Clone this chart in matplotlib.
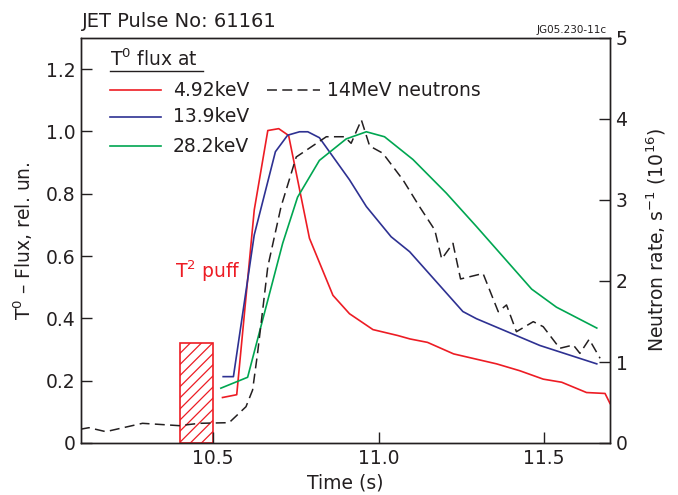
import numpy as np
import matplotlib
matplotlib.use('Agg')
import matplotlib.pyplot as plt
from matplotlib.patches import Rectangle
from matplotlib.lines import Line2D

plt.rcParams['font.family'] = ['DejaVu Sans']
plt.rcParams['mathtext.fontset'] = 'dejavusans'
plt.rcParams['hatch.linewidth'] = 0.9

ink = '#231f20'
red = '#ed1c24'
blue = '#2e3192'
green = '#00a651'
fs = 13.5

# T0 flux, 4.92 keV (rel. un.)
t_red = [10.528, 10.571, 10.624, 10.665, 10.698, 10.728, 10.791, 10.862, 10.912,
         10.983, 11.058, 11.095, 11.148, 11.227, 11.357, 11.427, 11.498, 11.554,
         11.629, 11.685, 11.70]
f_red = [0.146, 0.155, 0.748, 1.003, 1.009, 0.987, 0.657, 0.474, 0.415,
         0.364, 0.345, 0.334, 0.323, 0.286, 0.254, 0.232, 0.205, 0.195,
         0.162, 0.159, 0.127]

# T0 flux, 13.9 keV
t_blue = [10.530, 10.561, 10.624, 10.688, 10.725, 10.761, 10.786, 10.821, 10.912,
          10.963, 11.038, 11.094, 11.255, 11.296, 11.488, 11.660]
f_blue = [0.213, 0.213, 0.668, 0.935, 0.988, 0.999, 0.999, 0.980, 0.845,
          0.759, 0.662, 0.614, 0.422, 0.399, 0.313, 0.254]

# T0 flux, 28.2 keV
t_green = [10.523, 10.604, 10.710, 10.755, 10.821, 10.902, 10.963, 11.018, 11.104,
           11.205, 11.296, 11.463, 11.538, 11.660]
f_green = [0.176, 0.211, 0.641, 0.789, 0.907, 0.976, 0.999, 0.983, 0.910,
           0.802, 0.695, 0.494, 0.436, 0.369]

# 14 MeV neutron rate (1e16 /s)
t_neut = [10.097, 10.124, 10.175, 10.286, 10.397, 10.458, 10.548, 10.599, 10.619,
          10.634, 10.665, 10.705, 10.751, 10.842, 10.897, 10.917, 10.948, 10.973,
          11.013, 11.074, 11.124, 11.170, 11.191, 11.225, 11.248, 11.316, 11.362,
          11.387, 11.417, 11.468, 11.498, 11.548, 11.589, 11.609, 11.637, 11.670]
n_neut = [0.169, 0.189, 0.140, 0.243, 0.214, 0.243, 0.251, 0.448, 0.654,
          1.107, 2.177, 2.917, 3.531, 3.781, 3.781, 3.700, 3.988, 3.667,
          3.577, 3.247, 2.917, 2.630, 2.272, 2.465, 2.025, 2.093, 1.621,
          1.704, 1.374, 1.498, 1.436, 1.169, 1.210, 1.107, 1.280, 1.046]

# T2 puff window
puff_start, puff_end, puff_height = 10.4, 10.5, 0.32

W, H = 678, 495
fig = plt.figure(figsize=(W / 100, H / 100), dpi=100)
ax = fig.add_axes([81 / W, 1 - 443 / H, 529 / W, 405 / H])
ax2 = ax.twinx()

ax.add_patch(Rectangle((puff_start, 0), puff_end - puff_start, puff_height,
                       facecolor='none', edgecolor=red, hatch='///', lw=1.2, zorder=1))
ax.plot(t_red, f_red, color=red, lw=1.2, zorder=3)
ax.plot(t_blue, f_blue, color=blue, lw=1.2, zorder=3)
ax.plot(t_green, f_green, color=green, lw=1.2, zorder=3)
ax2.plot(t_neut, n_neut, color=ink, lw=1.1, ls=(0, (6.5, 3.5)))

ax.set_xlim(10.1, 11.7)
ax.set_ylim(0, 1.3)
ax2.set_ylim(0, 5)
ax.set_xticks([10.5, 11.0, 11.5])
ax.set_xticklabels(['10.5', '11.0', '11.5'])
ax.set_yticks([0, 0.2, 0.4, 0.6, 0.8, 1.0, 1.2])
ax.set_yticklabels(['0', '0.2', '0.4', '0.6', '0.8', '1.0', '1.2'])
ax2.set_yticks([0, 1, 2, 3, 4, 5])

for a in (ax, ax2):
    a.tick_params(direction='in', length=8, width=1, color=ink, labelcolor=ink,
                  labelsize=fs, pad=4)
    for s in a.spines.values():
        s.set_color(ink)
        s.set_linewidth(1.0)

ax.set_xlabel('Time (s)', fontsize=fs, color=ink, labelpad=4)
ax.set_ylabel(r'T$^{0}$ – Flux, rel. un.', fontsize=fs, color=ink, labelpad=8)
ax2.set_ylabel(r'Neutron rate, s$^{-1}$ (10$^{16}$)', fontsize=fs, color=ink, labelpad=12)

ax.text(10.384, 0.53, r'T$^{2}$ puff', color=red, fontsize=fs, va='baseline')

fig.text(82 / W, 1 - 27 / H, 'JET Pulse No: 61161', fontsize=14, color=ink, va='baseline')
fig.text(607 / W, 1 - 33 / H, 'JG05.230-11c', fontsize=7.5, color=ink, ha='right', va='baseline')

# legend drawn by hand
def fx(x):
    return x / W

def fy(y):
    return 1 - y / H

fig.text(fx(110), fy(66), r'T$^{0}$ flux at', fontsize=fs, color=ink, va='baseline')
fig.add_artist(Line2D([fx(110), fx(203)], [fy(70.7)] * 2, color=ink, lw=1.0))
for y, c, lab in [(90, red, '4.92keV'), (116.7, blue, '13.9keV'), (146, green, '28.2keV')]:
    fig.add_artist(Line2D([fx(110), fx(161)], [fy(y)] * 2, color=c, lw=1.2))
    fig.text(fx(173), fy(y), lab, fontsize=fs, color=ink, va='center')
fig.add_artist(Line2D([fx(267), fx(320)], [fy(90)] * 2, color=ink, lw=1.1, ls=(0, (6.5, 3.5))))
fig.text(fx(327), fy(90), '14MeV neutrons', fontsize=fs, color=ink, va='center')

fig.savefig('out.png', dpi=100)
